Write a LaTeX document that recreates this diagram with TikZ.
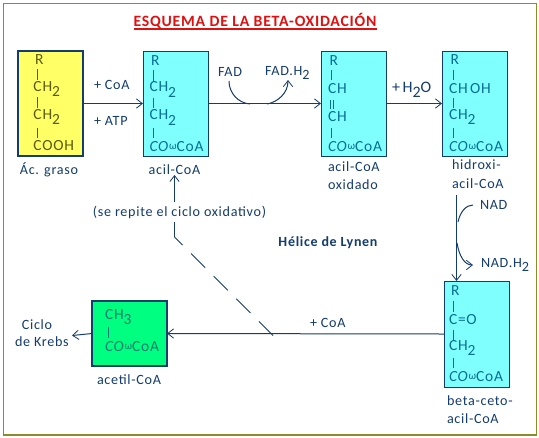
\documentclass[tikz,border=0pt]{standalone}
\usepackage{fontspec}
\setmainfont[LetterSpace=5]{Carlito}
\usetikzlibrary{arrows.meta}
\definecolor{navy}{HTML}{143C6E}
\definecolor{frameol}{HTML}{8C8C28}
\definecolor{fillY}{HTML}{FFFF66}
\definecolor{fillC}{HTML}{80FFFF}
\definecolor{fillG}{HTML}{00FF80}
\definecolor{txtC}{HTML}{0A6E96}
\definecolor{txtY}{HTML}{5A5A10}
\definecolor{txtG}{HTML}{0A7A70}
\definecolor{titleR}{HTML}{E01010}
\tikzset{
  x=0.75pt,y=-0.75pt,
  box/.style={draw=navy,line width=0.75pt,fill=fillC,anchor=north west,inner sep=0pt,outer sep=0pt},
  ybox/.style={box,fill=fillY,line width=1.6pt},
  gbox/.style={box,fill=fillG,line width=1.8pt},
  lab/.style={text=navy,font=\fontsize{10.6}{12}\selectfont,inner sep=0pt,outer sep=0pt},
  labw/.style={lab,anchor=west},
  chem/.style={lab,anchor=west,text=txtC,font=\fontsize{11.6}{12}\selectfont},
  chemy/.style={chem,text=txtY},
  chemg/.style={chem,text=txtG},
  bond/.style={draw=txtC,line width=0.6pt},
  bondy/.style={draw=txtY,line width=0.6pt},
  bondg/.style={draw=txtG,line width=0.6pt},
  conn/.style={draw=navy,line width=0.75pt},
  arr/.style={conn,-{Straight Barb[length=4.5pt,width=7pt,line width=0.6pt]}},
}
\newcommand{\coa}{\textit{CO}\raisebox{0.4ex}{\scalebox{0.7}{ω}}CoA}
\newcommand{\subtwo}{\raisebox{-0.7ex}{2}}
\newcommand{\subthree}{\raisebox{-0.7ex}{3}}
\begin{document}
\begin{tikzpicture}
\useasboundingbox (0,0) rectangle (539,437);
\fill[white] (0,0) rectangle (539,437);
\draw[draw=frameol,line width=1pt,fill=white] (3.5,3.5) rectangle (536.5,435);

\node[anchor=center,inner sep=0pt,text=titleR,font=\fontsize{11.8}{13}\bfseries\selectfont] (title) at (255,21) {ESQUEMA DE LA BETA-OXIDACIÓN};
\draw[titleR,line width=0.8pt] (133.5,29) -- (377,29);

% boxes
\node[ybox,minimum width=48.75pt,minimum height=78.75pt] (fa) at (18,51) {};
\node[box,minimum width=48.75pt,minimum height=78.75pt] (ac) at (143,51) {};
\node[box,minimum width=48.75pt,minimum height=78.75pt] (ox) at (321,51) {};
\node[box,minimum width=48.75pt,minimum height=78.75pt] (hy) at (442,51) {};
\node[box,minimum width=48.75pt,minimum height=79.5pt] (ke) at (444,281) {};
\node[gbox,minimum width=56.25pt,minimum height=48.75pt] (ace) at (92,301) {};

% yellow
\node[chemy] (fa1) at (35,60) {R};
\draw[bondy] (37,69) -- (37,80);
\node[chemy] (fa2) at (33.5,89) {CH\subtwo};
\draw[bondy] (37,97) -- (37,108);
\node[chemy] (fa3) at (33.5,117) {CH\subtwo};
\draw[bondy] (37,128) -- (37,138);
\node[chemy] (fa4) at (33.5,146) {COOH};

% acil-CoA
\node[chem] (ac1) at (151,61) {R};
\draw[bond] (153.5,70) -- (153.5,81);
\node[chem] (ac2) at (149.5,89.5) {CH\subtwo};
\draw[bond] (153.5,98) -- (153.5,108);
\node[chem] (ac3) at (149.5,117.5) {CH\subtwo};
\draw[bond] (153.5,128) -- (153.5,138);
\node[chem] (ac4) at (149.5,147) {\coa};

% oxidado
\node[chem] (ox1) at (329.5,60.5) {R};
\draw[bond] (331.5,70) -- (331.5,80);
\node[chem] (ox2) at (328,89) {CH};
\draw[bond] (330.5,100) -- (330.5,109) (333,100) -- (333,109);
\node[chem] (ox3) at (328,117) {CH};
\draw[bond] (331.5,128) -- (331.5,138);
\node[chem] (ox4) at (328,147) {\coa};

% hidroxi
\node[chem] (hy1) at (450.5,60) {R};
\draw[bond] (453,70) -- (453,80);
\node[chem] (hy2) at (449,88.5) {CH\,OH};
\draw[bond] (453,98) -- (453,108);
\node[chem] (hy3) at (449,117) {CH\subtwo};
\draw[bond] (453,128) -- (453,138);
\node[chem] (hy4) at (449,147) {\coa};

% ceto
\node[chem] (ke1) at (451,291) {R};
\draw[bond] (453,301) -- (453,312);
\node[chem] (ke2) at (449,320) {C=O};
\draw[bond] (453,330) -- (453,340);
\node[chem] (ke3) at (449,348) {CH\subtwo};
\draw[bond] (453,358) -- (453,368);
\node[chem] (ke4) at (449,377) {\coa};

% acetil
\node[chemg] (ace1) at (105,317) {CH\subthree};
\draw[bondg] (108,327) -- (108,338);
\node[chemg] (ace2) at (105,347) {\coa};

% labels
\node[lab] (lfa) at (49,170) {Ác. graso};
\node[lab] (lac) at (174.5,170) {acil-CoA};
\node[labw] (lox1) at (328,167) {acil-CoA};
\node[labw] (lox2) at (328,185) {oxidado};
\node[labw] (lhy1) at (452,165) {hidroxi-};
\node[labw] (lhy2) at (452,184) {acil-CoA};
\node[labw] (lke1) at (447,401) {beta-ceto-};
\node[labw] (lke2) at (447,419) {acil-CoA};
\node[lab] (lace) at (129,380) {acetil-CoA};
\node[lab] (krb1) at (37,325) {Ciclo};
\node[labw] (krb2) at (15,342) {de Krebs};
\node[labw] (pcoa) at (94,85) {+ CoA};
\node[labw] (patp) at (94,121) {+ ATP};
\node[lab] (fad) at (230,72) {FAD};
\node[labw] (fadh) at (265,73) {FAD.H\subtwo};
\node[labw,font=\fontsize{12}{12}\selectfont] (water) at (392,90) {+\,H\subtwo O};
\node[labw] (nad) at (480,205) {NAD};
\node[labw] (nadh) at (481,265) {NAD.H\subtwo};
\node[labw] (pcoa2) at (310,323) {+ CoA};
\node[lab] (rep) at (179.5,212) {(se repite el ciclo oxidativo)};
\node[lab,font=\fontsize{10.5}{12}\bfseries\selectfont] (lyn) at (328,243) {Hélice de Lynen};

% connectors
\draw[arr] (fa.east) -- (ac.west);
\draw[arr] (ac.east) -- (ox.west);
\draw[arr] (ox.east) -- (hy.west);
\coordinate (nstart) at (456.5,195);
\draw[arr] (nstart) -- (nstart |- ke.north);
\draw[arr] (ke.west) -- (ace.east);
\coordinate (kreb) at (72,335.5);
\draw[arr] (ace.west) -- (kreb);

% side curves
\coordinate (fadend) at (250,104);
\coordinate (fadhstart) at (267,104);
\coordinate (fadhend) at (288,80);
\draw[conn] (229,81) .. controls (229,93) and (238,103) .. (fadend);
\draw[arr] (fadhstart) .. controls (278,102) and (288,93) .. (fadhend);
\coordinate (nadcurve) at (473,205);
\coordinate (nadhcurve) at (473,265);
\draw[conn] (nadcurve) .. controls (466,205) and (460,212) .. (458,222);
\draw[arr] (457,243) .. controls (459,255) and (464,265) .. (nadhcurve);

% repeat cycle
\coordinate (corner) at (174.5,237);
\coordinate (dashend) at (273,335.5);
\draw[conn,dash pattern=on 15pt off 9pt,dash phase=6.5pt] (corner) -- (dashend);
\draw[conn] (corner) -- (174.5,222);
\draw[arr] (174.5,202) -- (lac.south -| 174.5,202);
\end{tikzpicture}
\end{document}
